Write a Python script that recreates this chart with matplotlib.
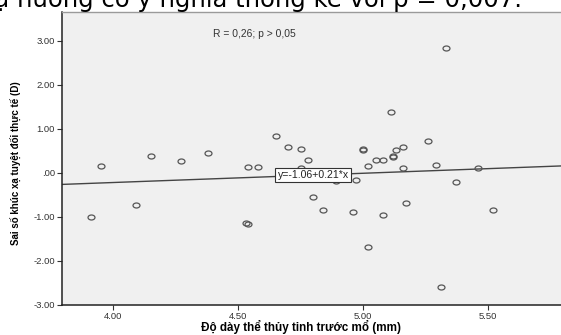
import matplotlib
matplotlib.use("Agg")
import matplotlib.pyplot as plt
from matplotlib.path import Path
import numpy as np

# Data
thickness_mm = [3.91, 3.95, 4.09, 4.15, 4.27, 4.38, 4.53, 4.54, 4.54, 4.58,
                4.65, 4.70, 4.75, 4.75, 4.78, 4.80, 4.84, 4.89, 4.96, 4.97,
                5.00, 5.00, 5.02, 5.02, 5.05, 5.08, 5.08, 5.11, 5.12, 5.12,
                5.13, 5.16, 5.16, 5.17, 5.26, 5.29, 5.31, 5.33, 5.37, 5.46, 5.52]
refr_error_D = [-1.01, 0.16, -0.72, 0.39, 0.27, 0.44, -1.14, -1.17, 0.13, 0.13,
                0.83, 0.59, 0.54, 0.10, 0.28, -0.54, -0.84, -0.18, -0.89, -0.16,
                0.52, 0.55, 0.15, -1.68, 0.30, 0.29, -0.96, 1.38, 0.35, 0.38,
                0.51, 0.58, 0.10, -0.69, 0.73, 0.18, -2.59, 2.83, -0.21, 0.10, -0.84]
fit_intercept = -1.06
fit_slope = 0.21
x_ticks = [4.0, 4.5, 5.0, 5.5]
x_tick_labels = ["4.00", "4.50", "5.00", "5.50"]
y_ticks = [3, 2, 1, 0, -1, -2, -3]
y_tick_labels = ["3.00", "2.00", "1.00", ".00", "-1.00", "-2.00", "-3.00"]

W, H = 561, 335
fig = plt.figure(figsize=(W / 100, H / 100), dpi=100)
fig.patch.set_facecolor("white")

# header text (partially cut at the top, as in the reference)
fig.text(522 / W, 1 - 7 / H, "xạ hướng có ý nghĩa thống kê với p = 0,007.",
         ha="right", va="baseline", fontsize=17.5, family="DejaVu Sans", color="black")

left, right, top, bottom = 62, 561, 12, 305
ax = fig.add_axes([left / W, 1 - bottom / H, (right - left) / W, (bottom - top) / H])
ax.set_facecolor("#f0f0f0")

ax.set_xlim(3.795, 5.791)
ax.set_ylim(-3.0, 3.65)

xs = np.array(ax.get_xlim())
ax.plot(xs, fit_intercept + fit_slope * xs, color="#444444", lw=1.0, zorder=2)

# slightly flattened open circle marker
circ = Path.unit_circle()
ellipse = Path(circ.vertices * np.array([1.0, 0.72]), circ.codes)
ax.plot(thickness_mm, refr_error_D, linestyle="none", marker=ellipse, ms=5.0,
        mfc="none", mec="#555555", mew=0.9, zorder=3)

ax.set_xticks(x_ticks)
ax.set_xticklabels(x_tick_labels)
ax.set_yticks(y_ticks)
ax.set_yticklabels(y_tick_labels)
ax.tick_params(axis="both", direction="out", length=3.5, width=0.8,
               color="#333333", labelsize=6.8, labelcolor="#333333", pad=1.5)
for lab in ax.get_xticklabels() + ax.get_yticklabels():
    lab.set_family("Liberation Sans")

for s in ["left", "bottom"]:
    ax.spines[s].set_color("#222222")
    ax.spines[s].set_linewidth(1.1)
ax.spines["top"].set_color("#9a9a9a")
ax.spines["top"].set_linewidth(1.0)
ax.spines["right"].set_visible(False)

ax.text(4.40, 3.15, "R = 0,26; p > 0,05", fontsize=7.4, family="Liberation Sans",
        color="#333333", ha="left", va="center")

ax.text(4.80, -0.05, "y=-1.06+0.21*x", fontsize=7.6, family="Liberation Sans",
        color="#222222", ha="center", va="center", zorder=5,
        bbox=dict(boxstyle="square,pad=0.22", fc="white", ec="#333333", lw=0.8))

fig.text(301 / W, 1 - 327 / H, "Độ dày thể thủy tinh trước mổ (mm)", ha="center",
         va="center", fontsize=8.4, fontweight="bold", family="Liberation Sans")
fig.text(16 / W, 1 - 163 / H, "Sai số khúc xạ tuyệt đối thực tế (D)", ha="center",
         va="center", rotation=90, fontsize=7.0, fontweight="bold",
         family=["Liberation Sans Narrow", "Liberation Sans"])

fig.savefig("out.png", dpi=100)
